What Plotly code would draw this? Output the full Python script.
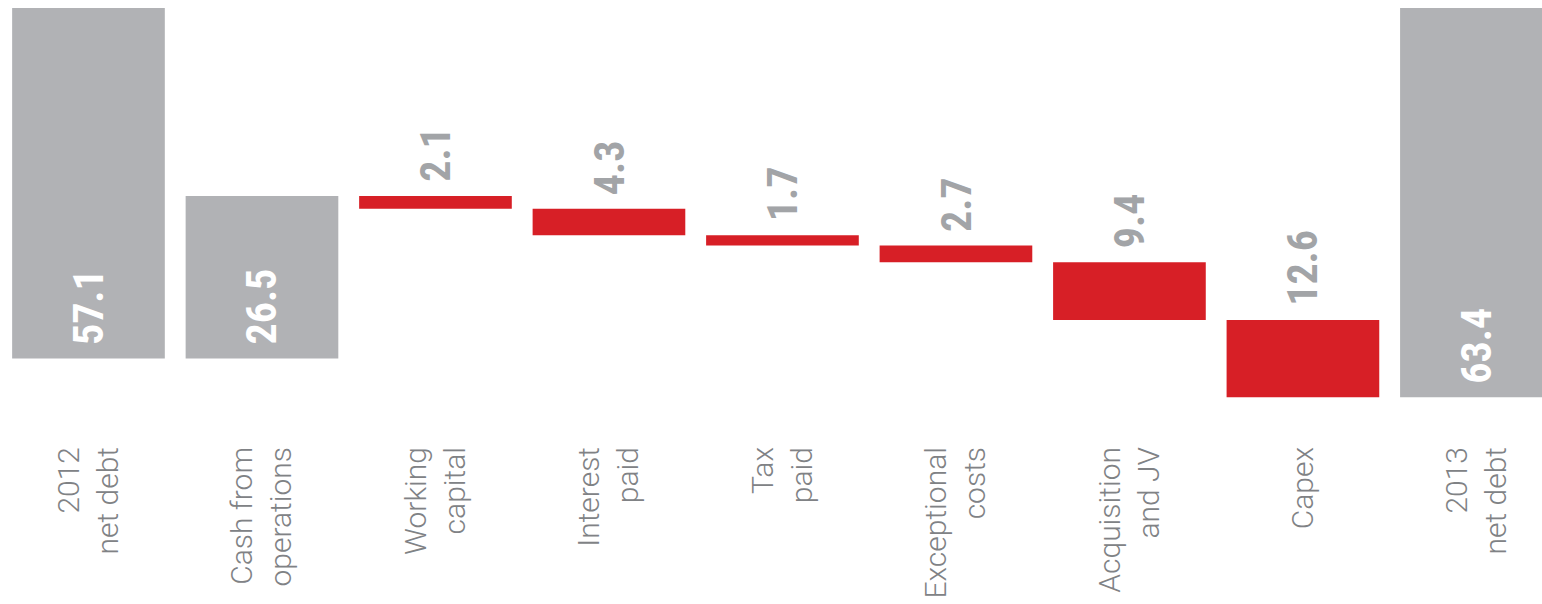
import plotly.graph_objects as go

categories = ["2012<br>net debt", "Cash from<br>operations", "Working<br>capital",
              "Interest<br>paid", "Tax<br>paid", "Exceptional<br>costs",
              "Acquisition<br>and JV", "Capex", "2013<br>net debt"]
values = [57.1, 26.5, 2.1, 4.3, 1.7, 2.7, 9.4, 12.6, 63.4]
kinds = ["total", "decrease", "increase", "increase", "increase", "increase",
         "increase", "increase", "total"]
labels = ["57.1", "26.5", "2.1", "4.3", "1.7", "2.7", "9.4", "12.6", "63.4"]

GRAY = "#b1b2b5"
RED = "#d71f26"
LABEL_GRAY = "#a2a4a7"
AXIS_GRAY = "#808285"

# compute waterfall bases (debt grows downward)
bases = []
running = 0.0
for v, k in zip(values, kinds):
    if k == "total":
        bases.append(0.0)
        running = v
    elif k == "decrease":
        running = running - v
        bases.append(running)
    else:
        bases.append(running)
        running = running + v

colors = [GRAY if k in ("total", "decrease") else RED for k in kinds]
xs = list(range(len(categories)))

fig = go.Figure()
fig.add_trace(go.Bar(
    x=xs, y=values, base=bases, width=0.88,
    marker=dict(color=colors, line=dict(width=0)),
    hoverinfo="skip", showlegend=False,
))

VAL_FONT = "Liberation Sans Narrow, Roboto Condensed, Arial Narrow, sans-serif"
for i, (v, b, k, t) in enumerate(zip(values, bases, kinds, labels)):
    if k in ("total", "decrease"):
        fig.add_annotation(x=i, y=b + v, text=t, textangle=-90, showarrow=False,
                           xanchor="center", yanchor="bottom", yshift=12,
                           font=dict(family=VAL_FONT, size=42, color="white", weight="bold"))
    else:
        fig.add_annotation(x=i, y=b, text=t, textangle=-90, showarrow=False,
                           xanchor="center", yanchor="bottom", yshift=12,
                           font=dict(family=VAL_FONT, size=42, color=LABEL_GRAY, weight="bold"))

fig.update_layout(
    width=1542, height=604,
    margin=dict(l=0, r=0, t=0, b=194),
    paper_bgcolor="white", plot_bgcolor="white",
    bargap=0.12,
    xaxis=dict(range=[-0.51, 8.378], tickmode="array", tickvals=xs, ticktext=categories,
               tickangle=-90, showgrid=False, zeroline=False, showline=False, ticks="",
               ticklabelstandoff=30,
               tickfont=dict(family="Roboto, sans-serif", size=30, color=AXIS_GRAY, weight=300)),
    yaxis=dict(range=[65.47, -1.30], showgrid=False, zeroline=False, showline=False,
               showticklabels=False, ticks=""),
)

fig.write_html(
    "out.html",
    config={"displayModeBar": False},
    post_script="document.body.style.margin='0';document.body.style.overflow='hidden';",
)
